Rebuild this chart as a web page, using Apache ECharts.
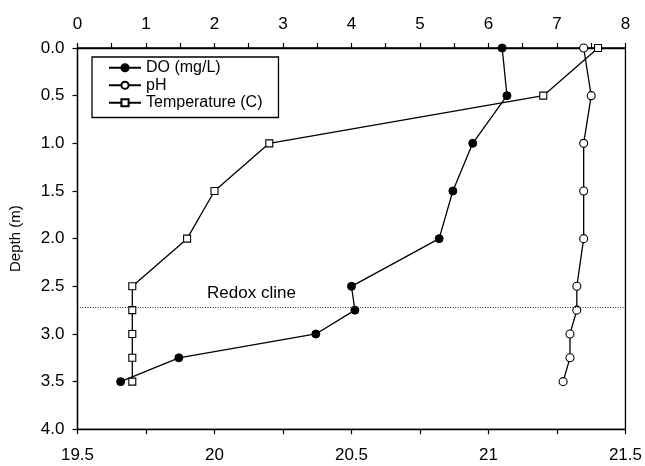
<!DOCTYPE html>
<html>
<head>
<meta charset="utf-8">
<script src="https://cdn.jsdelivr.net/npm/echarts@6/dist/echarts.min.js"></script>
<style>
  html, body { margin: 0; padding: 0; background: #fff; }
  #chart { width: 645px; height: 466px; }
</style>
</head>
<body>
<div id="chart"></div>
<script>
// Depth profile: sampling depths (m)
const depths = [0, 0.5, 1.0, 1.5, 2.0, 2.5, 2.75, 3.0, 3.25, 3.5];
// Dissolved oxygen (mg/L), top axis
const doValues = [6.20, 6.27, 5.77, 5.48, 5.28, 4.00, 4.05, 3.48, 1.48, 0.63];
// pH, top axis
const phValues = [7.39, 7.50, 7.39, 7.39, 7.39, 7.29, 7.29, 7.19, 7.19, 7.09];
// Water temperature (C), bottom axis
const tempValues = [21.40, 21.20, 20.20, 20.00, 19.90, 19.70, 19.70, 19.70, 19.70, 19.70];
// Depth of the redox cline (m)
const redoxDepth = 2.72;
const redoxLabel = 'Redox cline';

const FONT = '"Liberation Sans", Arial, Helvetica, sans-serif';

function pairs(values) {
  return values.map((v, i) => [v, depths[i]]);
}

const chart = echarts.init(document.getElementById('chart'), null, { renderer: 'canvas' });

const axisLine = { show: true, lineStyle: { color: '#000', width: 1.3 } };
const tickStyle = { color: '#000', width: 1.2 };

const option = {
  animation: false,
  backgroundColor: '#fff',
  textStyle: { fontFamily: FONT },
  grid: {
    left: 77.5, right: 19.3, top: 48, bottom: 36.7,
    show: true, borderColor: '#000', borderWidth: 1.3, backgroundColor: 'transparent'
  },
  legend: {
    orient: 'vertical',
    left: 92, top: 57,
    width: 190,
    borderColor: '#000', borderWidth: 1.3,
    padding: [2, 16, 6, 16],
    itemWidth: 32, itemHeight: 9, itemGap: 0,
    textStyle: { fontFamily: FONT, fontSize: 16, color: '#000', lineHeight: 17.5 },
    data: ['DO (mg/L)', 'pH', 'Temperature (C)']
  },
  xAxis: [
    {
      type: 'value', position: 'top', min: 0, max: 8, interval: 1,
      axisLine: axisLine,
      axisTick: { show: true, inside: false, length: 5, lineStyle: tickStyle },
      minorTick: { show: true, splitNumber: 2, length: 5, lineStyle: tickStyle },
      splitLine: { show: false },
      axisLabel: { color: '#000', fontSize: 17, fontFamily: FONT, margin: 15 }
    },
    {
      type: 'value', position: 'bottom', min: 19.5, max: 21.5, interval: 0.5,
      axisLine: axisLine,
      axisTick: { show: true, inside: false, length: 5, lineStyle: tickStyle },
      minorTick: { show: true, splitNumber: 2, length: 5, lineStyle: tickStyle },
      splitLine: { show: false },
      axisLabel: { color: '#000', fontSize: 17, fontFamily: FONT, margin: 18 }
    }
  ],
  yAxis: {
    type: 'value', inverse: true, min: 0, max: 4, interval: 0.5,
    name: 'Depth (m)', nameLocation: 'middle', nameGap: 54,
    nameTextStyle: { color: '#000', fontSize: 15, fontFamily: FONT },
    axisLine: axisLine,
    axisTick: { show: true, inside: false, length: 5, lineStyle: tickStyle },
    splitLine: { show: false },
    axisLabel: { color: '#000', fontSize: 17, fontFamily: FONT, margin: 13,
      formatter: v => v.toFixed(1) }
  },
  series: [
    {
      name: 'DO (mg/L)', type: 'line', xAxisIndex: 0, yAxisIndex: 0,
      data: pairs(doValues),
      symbol: 'circle', symbolSize: 8,
      itemStyle: { color: '#000', borderColor: '#000', borderWidth: 1 },
      lineStyle: { color: '#000', width: 1.3 },
      markLine: {
        silent: true, symbol: 'none',
        label: { show: false },
        lineStyle: { color: '#333', width: 1, type: [1, 1.5] },
        data: [{ yAxis: redoxDepth }]
      },
      z: 3
    },
    {
      name: 'pH', type: 'line', xAxisIndex: 0, yAxisIndex: 0,
      data: pairs(phValues),
      symbol: 'circle', symbolSize: 8,
      itemStyle: { color: '#fff', borderColor: '#000', borderWidth: 1.1 },
      lineStyle: { color: '#000', width: 1.3 },
      z: 3
    },
    {
      name: 'Temperature (C)', type: 'line', xAxisIndex: 1, yAxisIndex: 0,
      data: pairs(tempValues),
      symbol: 'rect', symbolSize: 7,
      itemStyle: { color: '#fff', borderColor: '#000', borderWidth: 1.1 },
      lineStyle: { color: '#000', width: 1.3 },
      z: 3
    }
  ]
};

chart.setOption(option);

// Place the redox cline caption just above its line
const lineY = chart.convertToPixel({ yAxisIndex: 0 }, redoxDepth);
const textX = chart.convertToPixel({ xAxisIndex: 1 }, 19.973);
chart.setOption({
  graphic: [{
    type: 'text', left: textX, top: lineY - 22,
    style: { text: redoxLabel, fontSize: 17, fontFamily: FONT, fill: '#000' },
    z: 10
  }]
});
</script>
</body>
</html>
